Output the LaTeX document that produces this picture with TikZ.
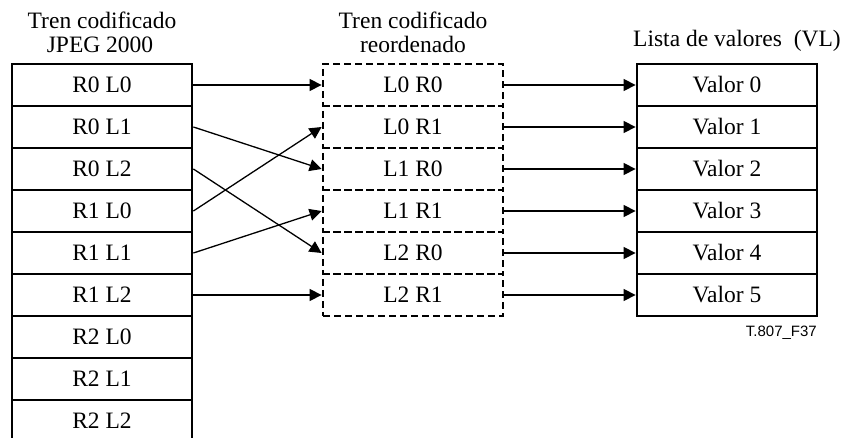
\documentclass[tikz,border=0pt]{standalone}
\usepackage{fontspec}
\setmainfont{Liberation Serif}
\newfontfamily\labelsans{Liberation Sans}
\usetikzlibrary{arrows.meta}

\tikzset{
  cell/.style={draw, line width=2.8pt, minimum width=180pt, minimum height=42pt,
               inner sep=0pt, font=\fontsize{23.5}{25}\selectfont},
  dashcell/.style={cell, dash pattern=on 7pt off 4pt},
  title/.style={anchor=base, inner sep=0pt, font=\fontsize{23.5}{25}\selectfont},
  link/.style={line width=1.3pt, -{Triangle[length=12pt,width=12pt]}},
}

\begin{document}
\begin{tikzpicture}[x=1pt, y=-1pt]
  \useasboundingbox (0,0) rectangle (846,438);

  % column headings
  \node[title] (h1a) at (102,29) {Tren codificado};
  \node[title] (h1b) at (100,53) {JPEG 2000};
  \node[title] (h2a) at (413,29) {Tren codificado};
  \node[title] (h2b) at (413,53) {reordenado};
  \node[title, anchor=base west] (h3) at (633,47) {Lista de valores\hspace{0.5em}(VL)};

  % original codestream packets
  \foreach \t [count=\i from 0] in {R0 L0, R0 L1, R0 L2, R1 L0, R1 L1, R1 L2, R2 L0, R2 L1, R2 L2}
    \node[cell] (l\i) at (102, 85+42*\i) {\t};

  % reordered codestream
  \foreach \t [count=\i from 0] in {L0 R0, L0 R1, L1 R0, L1 R1, L2 R0, L2 R1}
    \node[dashcell] (m\i) at (413, 85+42*\i) {\t};

  % value list
  \foreach \i in {0,...,5}
    \node[cell] (v\i) at (727, 85+42*\i) {Valor \i};

  % reordering links
  \draw[link] (l0.east) -- (m0.west);
  \draw[link] (l1.east) -- (m2.west);
  \draw[link] (l2.east) -- (m4.west);
  \draw[link] (l3.east) -- (m1.west);
  \draw[link] (l4.east) -- (m3.west);
  \draw[link] (l5.east) -- (m5.west);

  % links to the value list
  \foreach \i in {0,...,5}
    \draw[link] (m\i.east) -- (v\i.west);

  \node[anchor=base east, inner sep=0pt, font=\labelsans\fontsize{15}{17}\selectfont]
    (fig) at (817,337) {T.807\_F37};
\end{tikzpicture}
\end{document}
